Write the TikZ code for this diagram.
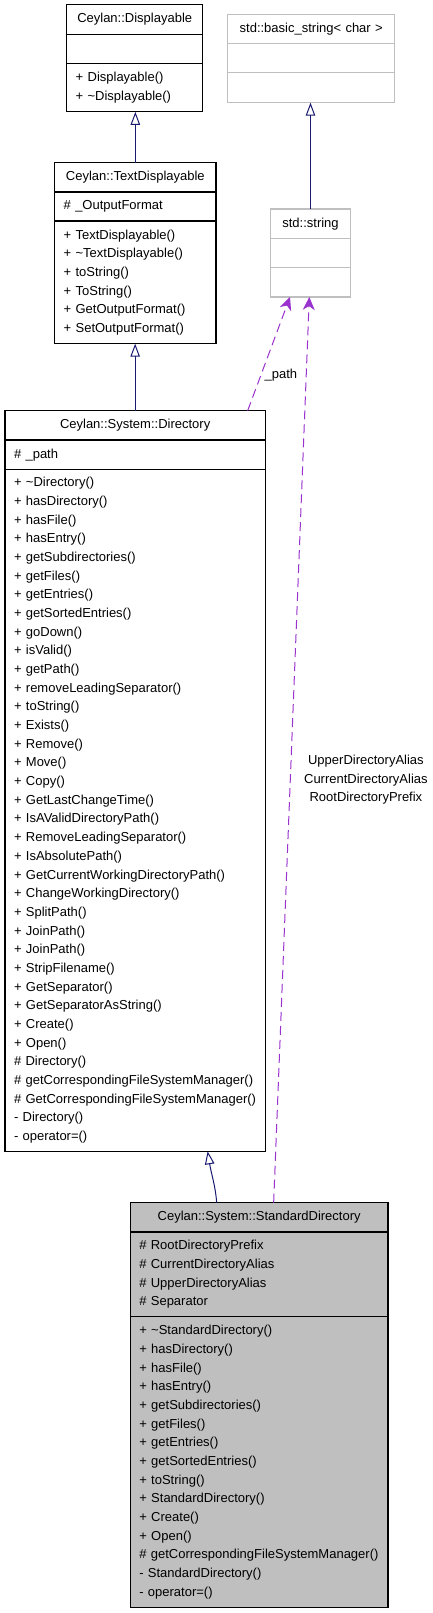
\documentclass[tikz,border=0pt]{standalone}
\usepackage{fontspec}
\setmainfont{Liberation Sans}
\usepackage{xcolor}
\usetikzlibrary{arrows.meta,positioning}
\definecolor{edgeblue}{HTML}{191970}
\definecolor{usepurple}{HTML}{9A32CD}
\definecolor{boxgrey}{HTML}{BFBFBF}

\begin{document}
\begin{tikzpicture}[
  x=1pt, y=-1pt,
  font=\fontsize{13}{18.67}\selectfont,
  hdr/.style  ={draw, line width=1.1pt, outer sep=0pt, align=center, inner xsep=9pt, inner ysep=0pt, minimum height=29.3pt, anchor=north west},
  part/.style ={draw, line width=1.1pt, outer sep=0pt, align=left, inner xsep=9pt, inner ysep=0pt},
  ext/.style  ={draw=boxgrey},
  cur/.style  ={fill=boxgrey},
  wdisp/.style={text width=118pt, minimum width=136pt},
  wbase/.style={text width=149pt, minimum width=167pt},
  wstr/.style ={text width=62.4pt, minimum width=80.4pt},
  wtext/.style={text width=143.3pt, minimum width=161.3pt},
  wdir/.style ={text width=242.3pt, minimum width=260.3pt},
  wstd/.style ={text width=239.7pt, minimum width=257.7pt},
  inh/.style  ={-{Triangle[open, length=13pt, width=9.5pt]}, edgeblue, line width=1pt},
  use/.style  ={-{Stealth[length=13pt, width=12pt, inset=4pt]}, usepurple, line width=1pt, dash pattern=on 9pt off 5pt},
]
\useasboundingbox (0,0) rectangle (432,1613);

% Ceylan::Displayable
\node[hdr, wdisp, minimum height=29.5pt] (dispt) at (66.7,4.7) {Ceylan::Displayable};
\node[part, wdisp, minimum height=29.4pt, below=0pt of dispt] (dispa) {};
\node[part, wdisp, minimum height=48.3pt, below=0pt of dispa] (dispm) {+ Displayable()\\+ \textasciitilde Displayable()};

% std::basic_string< char >
\node[hdr, ext, wbase, minimum height=28.6pt] (baset) at (227.7,14.7) {std::basic\_string< char >};
\node[part, ext, wbase, minimum height=29.4pt, below=0pt of baset] (basea) {};
\node[part, ext, wbase, minimum height=30pt, below=0pt of basea] (basem) {};

% std::string
\node[hdr, ext, wstr] (strt) at (270.3,209) {std::string};
\node[part, ext, wstr, minimum height=29.4pt, below=0pt of strt] (stra) {};
\node[part, ext, wstr, minimum height=29.3pt, below=0pt of stra] (strm) {};

% Ceylan::TextDisplayable
\node[hdr, wtext] (textt) at (54.7,162.7) {Ceylan::TextDisplayable};
\node[part, wtext, minimum height=29pt, below=0pt of textt] (texta) {\# \_OutputFormat};
\node[part, wtext, minimum height=122.7pt, below=0pt of texta] (textm)
  {+ TextDisplayable()\\+ \textasciitilde TextDisplayable()\\+ toString()\\+ ToString()\\+ GetOutputFormat()\\+ SetOutputFormat()};

% Ceylan::System::Directory
\node[hdr, wdir] (dirt) at (5,410.7) {Ceylan::System::Directory};
\node[part, wdir, minimum height=29.3pt, below=0pt of dirt] (dira) {\# \_path};
\node[part, wdir, minimum height=682pt, below=0pt of dira] (dirm)
  {+ \textasciitilde Directory()\\
   + hasDirectory()\\
   + hasFile()\\
   + hasEntry()\\
   + getSubdirectories()\\
   + getFiles()\\
   + getEntries()\\
   + getSortedEntries()\\
   + goDown()\\
   + isValid()\\
   + getPath()\\
   + removeLeadingSeparator()\\
   + toString()\\
   + Exists()\\
   + Remove()\\
   + Move()\\
   + Copy()\\
   + GetLastChangeTime()\\
   + IsAValidDirectoryPath()\\
   + RemoveLeadingSeparator()\\
   + IsAbsolutePath()\\
   + GetCurrentWorkingDirectoryPath()\\
   + ChangeWorkingDirectory()\\
   + SplitPath()\\
   + JoinPath()\\
   + JoinPath()\\
   + StripFilename()\\
   + GetSeparator()\\
   + GetSeparatorAsString()\\
   + Create()\\
   + Open()\\
   \# Directory()\\
   \# getCorrespondingFileSystemManager()\\
   \# GetCorrespondingFileSystemManager()\\
   - Directory()\\
   - operator=()};

% Ceylan::System::StandardDirectory
\node[hdr, cur, wstd] (stdt) at (130.3,1202.7) {Ceylan::System::StandardDirectory};
\node[part, cur, wstd, minimum height=84.7pt, below=0pt of stdt] (stda)
  {\# RootDirectoryPrefix\\\# CurrentDirectoryAlias\\\# UpperDirectoryAlias\\\# Separator};
\node[part, cur, wstd, minimum height=291pt, below=0pt of stda] (stdm)
  {+ \textasciitilde StandardDirectory()\\
   + hasDirectory()\\
   + hasFile()\\
   + hasEntry()\\
   + getSubdirectories()\\
   + getFiles()\\
   + getEntries()\\
   + getSortedEntries()\\
   + toString()\\
   + StandardDirectory()\\
   + Create()\\
   + Open()\\
   \# getCorrespondingFileSystemManager()\\
   - StandardDirectory()\\
   - operator=()};

% inheritance
\draw[inh] (textt.north) -- (textt.north |- dispm.south);
\draw[inh] (strt.north) -- (strt.north |- basem.south);
\draw[inh] (dirt.north) -- (dirt.north |- textm.south);
\draw[inh] ([xshift=-42.5pt]stdt.north) .. controls +(-1,-16) and +(3.5,22) .. ([xshift=72.5pt]dirm.south);

% usage
\draw[use] ([xshift=112.5pt]dirt.north) -- node[pos=0.31, right, text=black] {\_path} ([xshift=-20.5pt]strm.south);
\draw[use] ([xshift=14.5pt]stdt.north) -- node[pos=0.467, right=10pt, align=center, text=black]
  {UpperDirectoryAlias\\CurrentDirectoryAlias\\RootDirectoryPrefix} ([xshift=-1.2pt]strm.south);
\end{tikzpicture}
\end{document}
